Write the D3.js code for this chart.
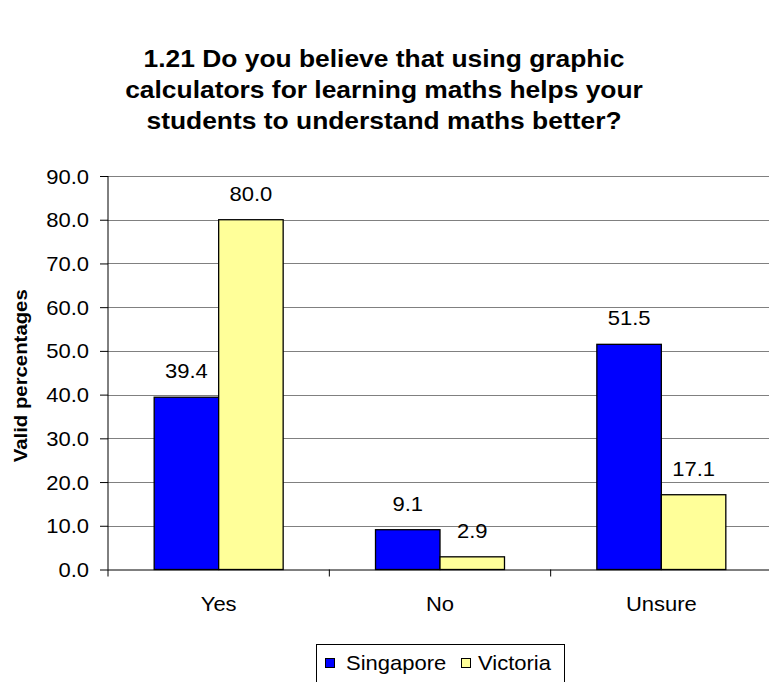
<!DOCTYPE html>
<html>
<head>
<meta charset="utf-8">
<script src="https://cdn.jsdelivr.net/npm/d3@7"></script>
<style>
  html, body { margin: 0; padding: 0; background: #fff; }
  svg { display: block; font-family: "Liberation Sans", Arial, sans-serif; }
</style>
</head>
<body>
<svg id="chart" width="769" height="682"></svg>
<script>
const titleLines = [
  "1.21 Do you believe that using graphic",
  "calculators for learning maths helps your",
  "students to understand maths better?"
];
const categories = ["Yes", "No", "Unsure"];
const seriesNames = ["Singapore", "Victoria"];
const singapore = [39.4, 9.1, 51.5];
const victoria = [80.0, 2.9, 17.1];
const yTicks = [0, 10, 20, 30, 40, 50, 60, 70, 80, 90];
const yLabel = "Valid percentages";
const colors = ["#0000FF", "#FFFF99"];

(function () {
const seriesValues = [singapore, victoria];
const svg = d3.select("#chart");
const FS = 20, SX = 1.1;   // text size and horizontal stretch

const pLeft = 108, pRight = 772, pTop = 176, pBottom = 569.5;

const x = d3.scaleBand().domain(categories).range([pLeft, pRight]).padding(0);
const xs = d3.scaleBand().domain(seriesNames).range([0, x.bandwidth()])
  .paddingInner(0).paddingOuter(0.716);
const y = d3.scaleLinear().domain([0, 90]).range([pBottom, pTop]);

function label(parent, tx, ty, txt, anchor, size, bold) {
  const g = parent.append("g").attr("transform", `translate(${tx},${ty}) scale(${SX},1)`);
  g.append("text").attr("text-anchor", anchor).attr("font-size", size)
    .attr("font-weight", bold ? "bold" : null).attr("fill", "#000").text(txt);
  return g;
}

// Title
titleLines.forEach((t, i) => label(svg, 384, 67 + i * 31, t, "middle", 24, true));

// Gridlines
svg.append("g").selectAll("line").data(yTicks.filter(d => d > 0)).join("line")
  .attr("x1", pLeft).attr("x2", pRight)
  .attr("y1", d => Math.round(y(d)) + 0.5).attr("y2", d => Math.round(y(d)) + 0.5)
  .attr("stroke", "#808080").attr("stroke-width", 1.2);

// Y axis
const yAxis = d3.axisLeft(y).tickValues(yTicks).tickFormat(d3.format(".1f"))
  .tickSize(8).tickPadding(10);
const yg = svg.append("g").attr("transform", `translate(${pLeft},0)`).call(yAxis);
yg.select(".domain").attr("d", `M0,${pTop}V${pBottom}`).attr("stroke", "#000");
yg.selectAll(".tick line").attr("stroke", "#000");
yg.selectAll(".tick text").attr("font-size", FS).attr("fill", "#000")
  .attr("font-family", "Liberation Sans, Arial, sans-serif")
  .attr("transform", `translate(-19,0) scale(${SX},1)`).attr("x", 0).attr("dy", "0.35em");

// Bars
const groups = svg.append("g").selectAll("g").data(categories).join("g")
  .attr("transform", d => `translate(${x(d)},0)`);
const barData = (c, i) => seriesNames.map((s, j) => ({ s, j, v: seriesValues[j][i] }));
groups.selectAll("rect").data(barData).join("rect")
  .attr("x", d => xs(d.s)).attr("width", xs.bandwidth())
  .attr("y", d => y(d.v)).attr("height", d => y(0) - y(d.v))
  .attr("fill", d => colors[d.j]).attr("stroke", "#000").attr("stroke-width", 1.3);
groups.each(function (c, i) {
  barData(c, i).forEach(d => {
    label(d3.select(this), xs(d.s) + xs.bandwidth() / 2, y(d.v) - 19,
      d3.format(".1f")(d.v), "middle", FS, false);
  });
});

// X axis
const xAxis = d3.axisBottom(x).tickSize(0).tickFormat("");
const xg = svg.append("g").attr("transform", `translate(0,${pBottom})`).call(xAxis);
xg.select(".domain").attr("d", `M${pLeft},0.5H${pRight}`).attr("stroke", "#000");
xg.append("g").selectAll("line").data(categories).join("line")
  .attr("x1", d => x(d)).attr("x2", d => x(d))
  .attr("y1", 0).attr("y2", 7).attr("stroke", "#000");
categories.forEach(c => label(svg, x(c) + x.bandwidth() / 2, 611, c, "middle", FS, false));

// Y label
svg.append("g").attr("transform", `translate(27,${(pTop + pBottom) / 2 + 3}) rotate(-90) scale(${SX},1)`)
  .append("text").attr("text-anchor", "middle").attr("font-size", 18.5).attr("font-weight", "bold")
  .text(yLabel);

// Legend
const lg = svg.append("g");
lg.append("rect").attr("x", 316.5).attr("y", 644.5).attr("width", 248).attr("height", 42)
  .attr("fill", "#fff").attr("stroke", "#000");
const legendX = [325, 461];
const legendTextX = [346, 478];
seriesNames.forEach((s, j) => {
  lg.append("rect").attr("x", legendX[j] + 0.5).attr("y", 658.5).attr("width", 9).attr("height", 9)
    .attr("fill", colors[j]).attr("stroke", "#000");
  label(lg, legendTextX[j], 670, s, "start", FS, false);
});
})();
</script>
</body>
</html>
